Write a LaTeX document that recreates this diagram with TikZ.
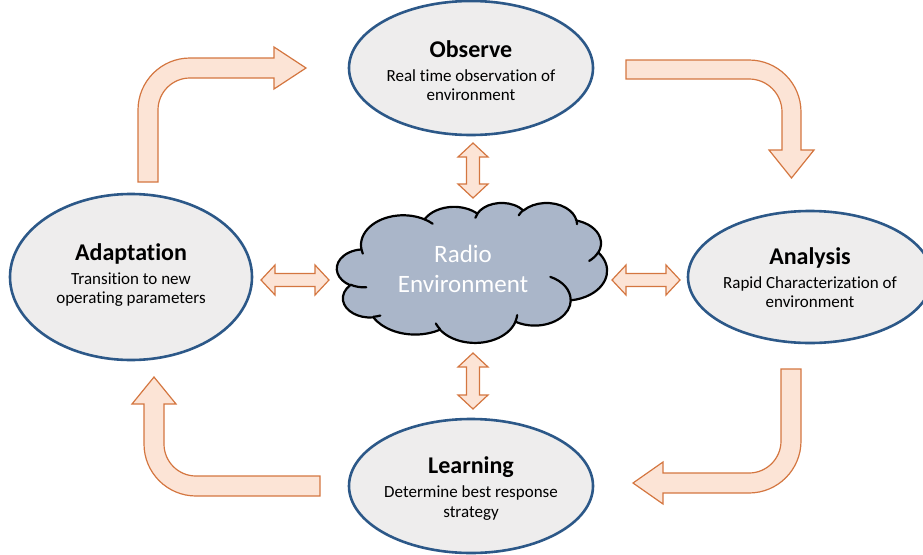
\documentclass[tikz,border=0pt]{standalone}
\usepackage{fontspec}
\setmainfont{Carlito}[Ligatures={NoCommon}]
\usetikzlibrary{shapes.geometric}
\definecolor{phasefill}{RGB}{238,237,237}
\definecolor{phaseedge}{RGB}{44,88,136}
\definecolor{cloudfill}{RGB}{170,182,201}
\definecolor{arrowfill}{RGB}{252,228,214}
\definecolor{arrowedge}{RGB}{212,118,64}
\begin{document}
\begin{tikzpicture}[x=1pt,y=-1pt,
  phase/.style={ellipse, draw=phaseedge, line width=2.6pt, fill=phasefill, inner sep=0pt},
  headtxt/.style={anchor=base, inner sep=0pt, font=\fontsize{24}{28}\selectfont\bfseries},
  bodytxt/.style={anchor=base, inner sep=0pt, font=\fontsize{17}{20}\selectfont},
  envtxt/.style={anchor=base, inner sep=0pt, text=white, font=\fontsize{25}{30}\selectfont},
  blockarrow/.style={draw=arrowedge, fill=arrowfill, line width=1.2pt, line join=miter},
  cloudbody/.style={draw=black, fill=cloudfill, line width=2.2pt, line join=round},
  cloudline/.style={draw=black, line width=2.2pt, line cap=round},
  pics/dblarrow/.style={code={
    \draw[blockarrow] (-#1,0) -- (-#1+14,-15) -- (-#1+14,-6.5) -- (#1-14,-6.5)
      -- (#1-14,-15) -- (#1,0) -- (#1-14,15) -- (#1-14,6.5) -- (-#1+14,6.5)
      -- (-#1+14,15) -- cycle;}}
]
\useasboundingbox (0,0) rectangle (923,554);
\clip (0,0) rectangle (923,554);

% ---- the four phases of the cycle ----
\node[phase, minimum width=244, minimum height=134] (obs) at (471,68) {};
\node[headtxt] (obs-t) at (471,57) {Observe};
\node[bodytxt] (obs-a) at (471,81) {Real time observation of};
\node[bodytxt] (obs-b) at (471,100) {environment};

\node[phase, minimum width=244, minimum height=132] (ana) at (810,277) {};
\node[headtxt] (ana-t) at (810,264) {Analysis};
\node[bodytxt] (ana-a) at (810,288) {Rapid Characterization of};
\node[bodytxt] (ana-b) at (810,307) {environment};

\node[phase, minimum width=244, minimum height=134] (lrn) at (471,486) {};
\node[headtxt] (lrn-t) at (471,473) {Learning};
\node[bodytxt] (lrn-a) at (471,497) {Determine best response};
\node[bodytxt] (lrn-b) at (471,517) {strategy};

\node[phase, minimum width=242, minimum height=166] (adp) at (131,277) {};
\node[headtxt] (adp-t) at (131,260) {Adaptation};
\node[bodytxt] (adp-a) at (131,284) {Transition to new};
\node[bodytxt] (adp-b) at (131,303) {operating parameters};

% ---- radio environment cloud (lobes and inner creases) ----
\begin{scope}[shift={(337,202.5)}, x=0.0625pt, y=-0.0324pt]
  \draw[cloudbody] (390,1437)
    arc[start angle=172.25, delta angle=128.09, x radius=675.3, y radius=919.0]
    arc[start angle=-152.03, delta angle=106.57, x radius=533.3, y radius=726.7]
    arc[start angle=-153.49, delta angle=116.16, x radius=436.5, y radius=594.5]
    arc[start angle=-139.72, delta angle=129.50, x radius=485.7, y radius=659.5]
    arc[start angle=-74.77, delta angle=97.98, x radius=533.3, y radius=727.3]
    arc[start angle=-37.53, delta angle=119.39, x radius=677.5, y radius=922.0]
    arc[start angle=0.46, delta angle=121.52, x radius=578.5, y radius=786.7]
    arc[start angle=16.85, delta angle=129.40, x radius=675.2, y radius=921.5]
    arc[start angle=58.99, delta angle=91.20, x radius=772.0, y radius=1054.3]
    arc[start angle=83.31, delta angle=139.80, x radius=436.0, y radius=591.8]
    arc[start angle=120.33, delta angle=143.79, x radius=434.5, y radius=594.5]
    -- cycle;
  \draw[cloudline]
    (469.3,2617.7) arc[start angle=85.55, delta angle=34.78, x radius=434.5, y radius=594.5]
    (692.8,3489.9) arc[start angle=68.24, delta angle=15.07, x radius=436.0, y radius=591.8]
    (1647.8,3909.0) arc[start angle=146.24, delta angle=12.23, x radius=675.2, y radius=921.5]
    (2882.7,3475.1) arc[start angle=4.74, delta angle=12.11, x radius=675.2, y radius=921.5]
    (3412.9,2295.4) arc[start angle=-64.03, delta angle=64.49, x radius=578.5, y radius=786.7]
    (4179.8,1535.4) arc[start angle=23.21, delta angle=26.43, x radius=533.3, y radius=727.3]
    (3832.4,542.6) arc[start angle=-10.21, delta angle=11.03, x radius=485.7, y radius=659.5]
    (2907.8,395.2) arc[start angle=-156.28, delta angle=16.57, x radius=485.7, y radius=659.5]
    (2214.1,472.0) arc[start angle=-167.73, delta angle=14.24, x radius=436.5, y radius=594.5]
    (1400.0,519.2) arc[start angle=-59.66, delta angle=13.92, x radius=675.3, y radius=919.0]
    (412.7,1578.9) arc[start angle=163.19, delta angle=9.06, x radius=675.3, y radius=919.0];
\end{scope}
\node[envtxt] (env-a) at (463,262) {Radio};
\node[envtxt] (env-b) at (463,292) {Environment};

% ---- two-way links between the cloud and each phase ----
\pic[rotate=90] (link-obs) at (473,170.5) {dblarrow=27.5};
\pic[rotate=90] (link-lrn) at (473,381) {dblarrow=28};
\pic (link-adp) at (295,280) {dblarrow=34};
\pic (link-ana) at (646,280) {dblarrow=34};

% ---- bent arrows running the cycle clockwise ----
% Adaptation -> Observe
\draw[blockarrow] (138,182) -- (138,110) arc[start angle=180, end angle=270, radius=52]
  -- (274,58) -- (274,47) -- (306,68) -- (274,89) -- (274,78) -- (190,78)
  arc[start angle=270, end angle=180, radius=32] -- (158,182) -- cycle;
% Observe -> Analysis
\draw[blockarrow] (626,60) -- (749,60) arc[start angle=270, end angle=360, radius=52]
  -- (801,150) -- (814,150) -- (791.5,178) -- (769,150) -- (782,150) -- (782,112)
  arc[start angle=0, end angle=-90, radius=33] -- (626,79) -- cycle;
% Analysis -> Learning
\draw[blockarrow] (781,369) -- (801,369) -- (801,441) arc[start angle=0, end angle=90, radius=52]
  -- (663,493) -- (663,504) -- (633,483) -- (663,462) -- (663,473) -- (749,473)
  arc[start angle=90, end angle=0, radius=32] -- cycle;
% Learning -> Adaptation
\draw[blockarrow] (320,476) -- (320,496) -- (196,496) arc[start angle=90, end angle=180, radius=52]
  -- (144,404) -- (132,404) -- (154,377) -- (176,404) -- (164,404) -- (164,444)
  arc[start angle=180, end angle=90, radius=32] -- cycle;
\end{tikzpicture}
\end{document}
